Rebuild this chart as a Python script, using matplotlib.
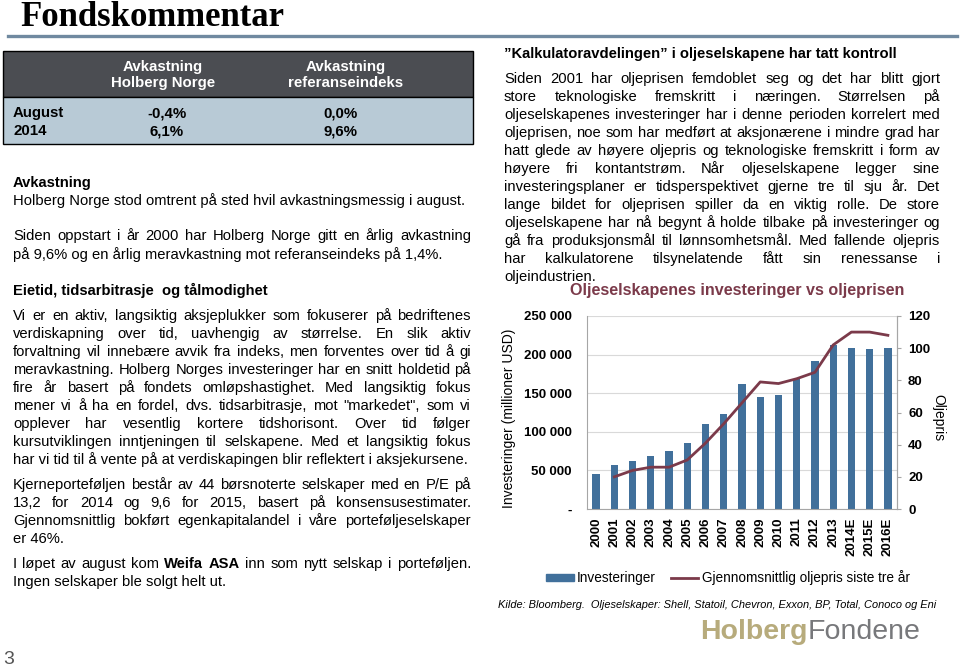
import numpy as np
import matplotlib
matplotlib.use('Agg')
import matplotlib.pyplot as plt
from matplotlib.patches import Rectangle
from matplotlib.lines import Line2D

plt.rcParams['font.family'] = ['Liberation Sans', 'DejaVu Sans']

# chart data
years = ['2000', '2001', '2002', '2003', '2004', '2005', '2006', '2007', '2008',
         '2009', '2010', '2011', '2012', '2013', '2014E', '2015E', '2016E']
investments = [45000, 57000, 62000, 68500, 75000, 86000, 110000, 123000, 161500,
               145000, 147500, 169000, 191500, 213000, 208000, 207000, 208000]
oil_price = [np.nan, 20, 24, 26, 26, 30.5, 41, 53, 66, 79, 78, 81, 85, 102, 110, 110, 108]
left_ticks = [0, 50000, 100000, 150000, 200000, 250000]
right_ticks = [0, 20, 40, 60, 80, 100, 120]

# table data
table_cols = ['Avkastning\nHolberg Norge', 'Avkastning\nreferanseindeks']
table_rows = ['August', '2014']
fund_ret = ['-0,4%', '6,1%']
index_ret = ['0,0%', '9,6%']

left_text = [
    ('Avkastning', 'B'),
    ('Holberg Norge stod omtrent på sted hvil avkastningsmessig i august.', 'L'),
    ('', ''),
    ('Siden oppstart i år 2000 har Holberg Norge gitt en årlig avkastning', 'J'),
    ('på 9,6% og en årlig meravkastning mot referanseindeks på 1,4%.', 'L'),
    ('', ''),
    ('Eietid, tidsarbitrasje  og tålmodighet', 'B'),
    ('Vi er en aktiv, langsiktig aksjeplukker som fokuserer på bedriftenes', 'J'),
    ('verdiskapning over tid, uavhengig av størrelse. En slik aktiv', 'J'),
    ('forvaltning vil innebære avvik fra indeks, men forventes over tid å gi', 'J'),
    ('meravkastning. Holberg Norges investeringer har en snitt holdetid på', 'J'),
    ('fire år basert på fondets omløpshastighet. Med langsiktig fokus', 'J'),
    ('mener vi å ha en fordel, dvs. tidsarbitrasje, mot "markedet", som vi', 'J'),
    ('opplever har vesentlig kortere tidshorisont. Over tid følger', 'J'),
    ('kursutviklingen inntjeningen til selskapene. Med et langsiktig fokus', 'J'),
    ('har vi tid til å vente på at verdiskapingen blir reflektert i aksjekursene.', 'L'),
    ('Kjerneporteføljen består av 44 børsnoterte selskaper med en P/E på', 'J'),
    ('13,2 for 2014 og 9,6 for 2015, basert på konsensusestimater.', 'J'),
    ('Gjennomsnittlig bokført egenkapitalandel i våre porteføljeselskaper', 'J'),
    ('er 46%.', 'L'),
    ('I løpet av august kom Weifa ASA inn som nytt selskap i porteføljen.', 'J'),
    ('Ingen selskaper ble solgt helt ut.', 'L'),
]
left_y = [183, 201, 0, 236, 255, 0, 290, 316, 334, 352, 370, 388, 406, 424, 442, 460,
          485, 503, 521, 539, 564, 582]

right_text = [
    'Siden 2001 har oljeprisen femdoblet seg og det har blitt gjort',
    'store teknologiske fremskritt i næringen. Størrelsen på',
    'oljeselskapenes investeringer har i denne perioden korrelert med',
    'oljeprisen, noe som har medført at aksjonærene i mindre grad har',
    'hatt glede av høyere oljepris og teknologiske fremskritt i form av',
    'høyere fri kontantstrøm. Når oljeselskapene legger sine',
    'investeringsplaner er tidsperspektivet gjerne tre til sju år.  Det',
    'lange bildet for oljeprisen spiller da en viktig rolle. De store',
    'oljeselskapene har nå begynt å holde tilbake på investeringer og',
    'gå fra produksjonsmål til lønnsomhetsmål. Med fallende oljepris',
    'har kalkulatorene tilsynelatende fått sin renessanse i',
    'oljeindustrien.',
]

W, H = 960, 669
FS = 10.6  # body text size
fig = plt.figure(figsize=(W / 100, H / 100), dpi=100)
renderer = fig.canvas.get_renderer()


def fx(x):
    return x / W


def fy(y):
    return 1 - y / H


def txt(x, y, s, **kw):
    kw.setdefault('va', 'center')
    return fig.text(fx(x), fy(y), s, **kw)


def justify(x0, x1, y, line, size=FS, bold=()):
    words = line.split()
    items = [txt(x0, y, w, fontsize=size, fontweight='bold' if w in bold else 'normal')
             for w in words]
    widths = [t.get_window_extent(renderer).width for t in items]
    gap = (x1 - x0 - sum(widths)) / (len(words) - 1)
    x = x0
    for t, w in zip(items, widths):
        t.set_x(fx(x))
        x += w + gap


# title and rule
txt(20, 26, 'Fondskommentar', fontsize=25, fontweight='bold', family='Liberation Serif',
    va='baseline')
fig.add_artist(Line2D([fx(8), fx(957)], [fy(36), fy(36)], color='#7089a0', lw=2.4))

# table
fig.add_artist(Rectangle((fx(3), fy(97)), fx(470), 46 / H, facecolor='#4b4d52',
                         edgecolor='black', lw=1))
fig.add_artist(Rectangle((fx(3), fy(144)), fx(470), 47 / H, facecolor='#b8cad6',
                         edgecolor='black', lw=1))
for cx, col in zip([163, 346], table_cols):
    txt(cx, 75, col, ha='center', color='white', fontsize=10.8, fontweight='bold',
        linespacing=1.2)
for i, row in enumerate(table_rows):
    yy = 113 + 18 * i
    txt(13, yy, row, fontsize=10.8, fontweight='bold')
    txt(167, yy, fund_ret[i], ha='center', fontsize=10.8, fontweight='bold')
    txt(341, yy, index_ret[i], ha='center', fontsize=10.8, fontweight='bold')

# left column
for (line, kind), yy in zip(left_text, left_y):
    if not line:
        continue
    if kind == 'B':
        txt(13, yy, line, fontsize=FS, fontweight='bold')
    elif kind == 'J':
        justify(13, 471, yy, line, bold=('Weifa', 'ASA'))
    else:
        txt(13, yy, line, fontsize=FS)

txt(3, 660, '3', fontsize=14, color='#555555')

# right column
txt(504, 54, '\u201dKalkulatoravdelingen\u201d i oljeselskapene har tatt kontroll',
    fontsize=FS, fontweight='bold')
for i, line in enumerate(right_text):
    yy = 79 + 18 * i
    if i == len(right_text) - 1:
        txt(504, yy, line, fontsize=FS)
    else:
        justify(504, 940, yy, line)

# chart
bar_color = '#41709b'
line_color = '#7b3a4a'
ax = fig.add_axes([fx(587), fy(509), (897 - 587) / W, (509 - 316) / H])
x = np.arange(len(years))
ax.bar(x, investments, width=0.4, color=bar_color, zorder=2)
ax.set_xlim(-0.5, len(years) - 0.5)
ax.set_ylim(0, 250000)
ax.set_yticks(left_ticks)
ax.set_yticklabels(['-' if v == 0 else f'{v:,}'.replace(',', ' ') for v in left_ticks],
                   fontsize=9.5, fontweight='bold')
ax.yaxis.grid(True, color='#d9d9d9', lw=0.8)
ax.set_axisbelow(True)
ax.tick_params(axis='y', length=0, pad=11)
ax.set_xticks(x)
ax.set_xticklabels(years, rotation=90, fontsize=9.5, fontweight='bold')
ax.tick_params(axis='x', length=0, pad=6)
for s in ['left', 'bottom', 'right']:
    ax.spines[s].set_color('#a6a6a6')
ax.spines['top'].set_visible(False)

ax2 = ax.twinx()
ax2.plot(x, oil_price, color=line_color, lw=2)
ax2.set_ylim(0, 120)
ax2.set_yticks(right_ticks)
ax2.set_yticklabels([str(v) for v in right_ticks], fontsize=9.5, fontweight='bold')
ax2.tick_params(axis='y', length=3, color='#a6a6a6', pad=5)
ax2.spines['right'].set_color('#a6a6a6')
ax2.spines['top'].set_visible(False)
ax2.spines['left'].set_visible(False)
ax2.spines['bottom'].set_visible(False)

txt(737, 291, 'Oljeselskapenes investeringer vs oljeprisen', ha='center', fontsize=11.6,
    fontweight='bold', color=line_color)
txt(509, 418, 'Investeringer (millioner USD)', ha='center', rotation=90, fontsize=10)
txt(938, 418, 'Oljepris', ha='center', rotation=-90, fontsize=10)

handles = [Rectangle((0, 0), 1, 1, color=bar_color),
           Line2D([0], [0], color=line_color, lw=2)]
fig.legend(handles, ['Investeringer', 'Gjennomsnittlig oljepris siste tre år'],
           loc='center', bbox_to_anchor=(fx(728), fy(578)), ncol=2, frameon=False,
           fontsize=9.8, handlelength=2.0, handleheight=0.4, handletextpad=0.25,
           columnspacing=1.1)

txt(498, 605, 'Kilde: Bloomberg.  Oljeselskaper: Shell, Statoil, Chevron, Exxon, BP, '
    'Total, Conoco og Eni', fontsize=7.9, style='italic')

t = txt(700, 632, 'Holberg', fontsize=20.5, fontweight='bold', color='#b7ab7c')
wb = t.get_window_extent(renderer).width
txt(700 + wb, 632, 'Fondene', fontsize=20.5, color='#77787b')

fig.savefig('out.png', dpi=100)
